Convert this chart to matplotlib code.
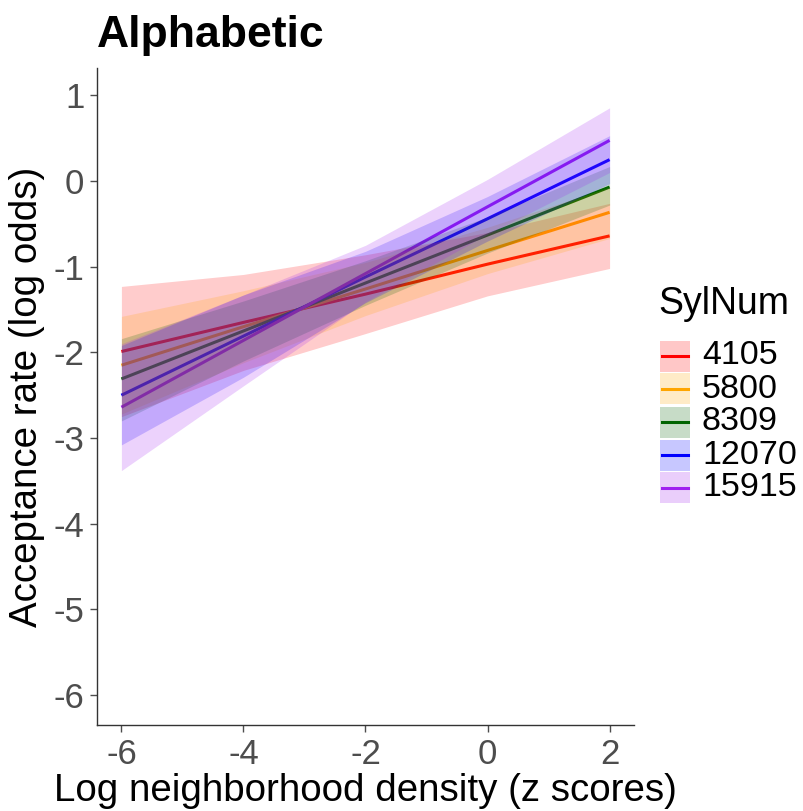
import matplotlib
matplotlib.use("Agg")
import matplotlib.pyplot as plt
from matplotlib.patches import Rectangle
from matplotlib.lines import Line2D

plt.rcParams['font.family'] = ['Liberation Sans', 'DejaVu Sans']

# ---- data ----
x_pts = [-6, -4, -2, 0, 2]
groups = ['4105', '5800', '8309', '12070', '15915']
colors = ['#FF0000', '#FFA500', '#006400', '#0000FF', '#A020F0']

fit_4105 = [-1.99, -1.65, -1.32, -0.97, -0.64]
lo_4105 = [-2.75, -2.21, -1.78, -1.34, -1.02]
hi_4105 = [-1.23, -1.09, -0.86, -0.60, -0.26]

fit_5800 = [-2.15, -1.70, -1.26, -0.81, -0.365]
lo_5800 = [-2.72, -2.12, -1.57, -1.08, -0.67]
hi_5800 = [-1.58, -1.28, -0.95, -0.54, -0.07]

fit_8309 = [-2.31, -1.75, -1.19, -0.63, -0.07]
lo_8309 = [-2.80, -2.10, -1.45, -0.84, -0.28]
hi_8309 = [-1.84, -1.40, -0.93, -0.42, 0.17]

fit_12070 = [-2.50, -1.81, -1.12, -0.44, 0.25]
lo_12070 = [-3.08, -2.29, -1.42, -0.70, -0.03]
hi_12070 = [-1.92, -1.33, -0.82, -0.18, 0.53]

fit_15915 = [-2.64, -1.86, -1.08, -0.30, 0.475]
lo_15915 = [-3.38, -2.39, -1.41, -0.62, 0.10]
hi_15915 = [-1.90, -1.33, -0.75, 0.02, 0.855]

x_ticks = [-6, -4, -2, 0, 2]
y_ticks = [1, 0, -1, -2, -3, -4, -5, -6]

fits = [fit_4105, fit_5800, fit_8309, fit_12070, fit_15915]
los = [lo_4105, lo_5800, lo_8309, lo_12070, lo_15915]
his = [hi_4105, hi_5800, hi_8309, hi_12070, hi_15915]

W, H = 804, 811
fig = plt.figure(figsize=(W / 100, H / 100), dpi=100)
ax = fig.add_axes([97 / W, 1 - 725 / H, (634 - 97) / W, (725 - 68) / H])

for f, c in zip(fits, colors):
    ax.plot(x_pts, f, color=c, lw=2.2, zorder=2, solid_capstyle='butt')
for lo, hi, c in zip(los, his, colors):
    ax.fill_between(x_pts, lo, hi, color=c, alpha=0.2, lw=0, zorder=3)

ax.set_xlim(-6.4, 2.4)
ax.set_ylim(-6.35, 1.32)
ax.set_xticks(x_ticks)
ax.set_xticklabels([str(v) for v in x_ticks])
ax.set_yticks(y_ticks)
ax.set_yticklabels([str(v) for v in y_ticks])
for s in ['top', 'right']:
    ax.spines[s].set_visible(False)
for s in ['left', 'bottom']:
    ax.spines[s].set_color('#333333')
    ax.spines[s].set_linewidth(1.0)
ax.tick_params(axis='both', labelsize=25, colors='#4D4D4D', length=5, width=1, pad=4)

ax.set_xlabel('Log neighborhood density (z scores)', fontsize=27.7, color='black', labelpad=2)
ax.set_ylabel('Acceptance rate (log odds)', fontsize=27.7, color='black', labelpad=6)
ax.set_title('Alphabetic', fontsize=32, fontweight='bold', loc='left', pad=15)

# ---- legend (ggplot style), placed in figure pixel coordinates ----
def fx(px):
    return px / W

def fy(py):
    return 1 - py / H

fig.text(fx(658), fy(304), 'SylNum', fontsize=27, va='center', ha='left')
row0, step = 356, 33
for i, (g, c) in enumerate(zip(groups, colors)):
    cy = row0 + step * i
    fig.add_artist(Rectangle((fx(660), fy(cy + 15.5)), fx(30), 31 / H,
                             transform=fig.transFigure, facecolor=c, alpha=0.22,
                             edgecolor='none'))
    fig.add_artist(Line2D([fx(662), fx(688)], [fy(cy), fy(cy)],
                          transform=fig.transFigure, color=c, lw=2.2))
    fig.text(fx(702), fy(cy), g, fontsize=24.5, va='center', ha='left')

fig.savefig('out.png', dpi=100)
